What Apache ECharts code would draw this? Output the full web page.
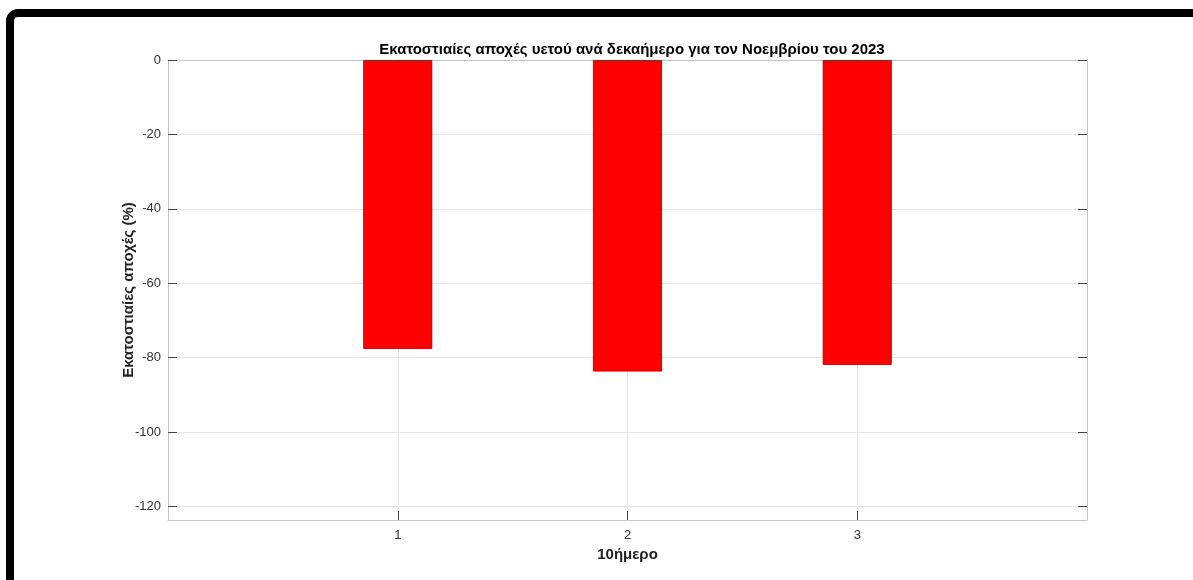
<!DOCTYPE html>
<html><head><meta charset="utf-8">
<script src="https://cdn.jsdelivr.net/npm/echarts@6/dist/echarts.min.js"></script>
<style>html,body{margin:0;padding:0;background:#fff}#c{width:1193px;height:580px}</style>
</head><body><div id="c"></div>
<script>
const categories = [1, 2, 3];
const values = [-77.6, -83.7, -81.9];
const yTicks = [-120, -100, -80, -60, -40, -20, 0];
const titleText = 'Εκατοστιαίες αποχές υετού ανά δεκαήμερο για τον Νοεμβρίου του 2023';
const yName = 'Εκατοστιαίες αποχές (%)';
const xName = '10ήμερο';

const font = 'Liberation Sans, Arial, sans-serif';
const chart = echarts.init(document.getElementById('c'), null, {renderer: 'canvas'});
const axisLineC = '#c4c4c4', tickC = '#444', gridC = '#e6e6e6';
chart.setOption({
  animation: false,
  backgroundColor: '#fff',
  title: {text: titleText, left: 627, textAlign: 'center', top: 37,
    textStyle: {fontFamily: font, fontSize: 15, fontWeight: 'bold', color: '#000'}},
  grid: {left: 168, right: 106, top: 60, bottom: 60, containLabel: false},
  xAxis: [{
    type: 'value', min: 0, max: 4, interval: 1,
    name: xName, nameLocation: 'middle', nameGap: 25,
    nameTextStyle: {fontFamily: font, fontSize: 15, fontWeight: 'bold', color: '#222'},
    axisLine: {show: true, onZero: false, lineStyle: {color: axisLineC}},
    axisTick: {show: true, inside: true, length: 9, lineStyle: {color: tickC}, customValues: categories},
    axisLabel: {margin: 9, fontFamily: font, fontSize: 13, color: '#333', customValues: categories},
    splitLine: {show: true, lineStyle: {color: gridC}}
  }, {
    type: 'value', position: 'top', min: 0, max: 4, interval: 1,
    axisLine: {show: true, onZero: false, lineStyle: {color: axisLineC}},
    axisTick: {show: true, inside: true, length: 9, lineStyle: {color: tickC}, customValues: categories},
    axisLabel: {show: false, customValues: categories}, splitLine: {show: false}
  }],
  yAxis: [{
    type: 'value', min: -123.6, max: 0,
    name: yName, nameLocation: 'middle', nameGap: 32, nameRotate: 90, nameMoveOverlap: false,
    nameTextStyle: {fontFamily: font, fontSize: 15, fontWeight: 'bold', color: '#222'},
    axisLine: {show: true, onZero: false, lineStyle: {color: axisLineC}},
    axisTick: {show: true, inside: true, length: 9, lineStyle: {color: tickC},
      customValues: yTicks},
    axisLabel: {margin: 7, fontFamily: font, fontSize: 13, color: '#333', customValues: yTicks},
    splitLine: {show: true, lineStyle: {color: gridC}}
  }, {
    type: 'value', position: 'right', min: -123.6, max: 0,
    axisLine: {show: true, onZero: false, lineStyle: {color: axisLineC}},
    axisTick: {show: true, inside: true, length: 9, lineStyle: {color: tickC}, customValues: yTicks},
    axisLabel: {show: false, customValues: yTicks}, splitLine: {show: false}
  }],
  series: [{
    type: 'bar', xAxisIndex: 0, yAxisIndex: 0,
    data: categories.map((c, i) => [c, values[i]]),
    barWidth: 69,
    itemStyle: {color: '#ff0000', borderColor: '#8a0000', borderWidth: 0.8}
  }],
  graphic: [{
    type: 'rect', z: 100,
    shape: {x: 10, y: 13, width: 1250, height: 650, r: 8},
    style: {fill: 'none', stroke: '#000', lineWidth: 8}
  }]
});
</script></body></html>
